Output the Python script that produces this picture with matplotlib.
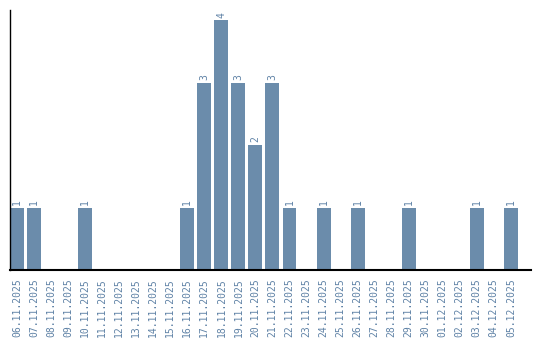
import matplotlib
matplotlib.use("Agg")
import matplotlib.pyplot as plt
import numpy as np

dates = ["06.11.2025", "07.11.2025", "08.11.2025", "09.11.2025", "10.11.2025",
         "11.11.2025", "12.11.2025", "13.11.2025", "14.11.2025", "15.11.2025",
         "16.11.2025", "17.11.2025", "18.11.2025", "19.11.2025", "20.11.2025",
         "21.11.2025", "22.11.2025", "23.11.2025", "24.11.2025", "25.11.2025",
         "26.11.2025", "27.11.2025", "28.11.2025", "29.11.2025", "30.11.2025",
         "01.12.2025", "02.12.2025", "03.12.2025", "04.12.2025", "05.12.2025"]
counts = [1, 1, 0, 0, 1, 0, 0, 0, 0, 0,
          1, 3, 4, 3, 2, 3, 1, 0, 1, 0,
          1, 0, 0, 1, 0, 0, 0, 1, 0, 1]

bar_color = '#6b8cab'
text_color = '#5f82a6'

fig = plt.figure(figsize=(5.4, 3.4), dpi=100, facecolor='white')
ax = fig.add_axes([10 / 540, 1 - 270 / 340, 521 / 540, 260 / 340])

x = np.arange(len(dates))
bars = ax.bar(x, counts, width=0.82, color=bar_color)

# value labels only on non-empty days
for xi, c in zip(x, counts):
    if c > 0:
        ax.text(xi, c + 0.04, str(c), rotation=90, ha='center', va='bottom',
                fontsize=7, family='DejaVu Sans Mono', color=text_color)

ax.set_xlim(-0.41, 30.18)
ax.set_ylim(0, 4.16)
ax.set_xticks(x)
ax.set_xticklabels(dates, rotation=90, fontsize=7, family='DejaVu Sans Mono',
                   color=text_color)
ax.tick_params(axis='x', length=0, pad=6)
ax.set_yticks([])

for spine in ['top', 'right']:
    ax.spines[spine].set_visible(False)
ax.spines['left'].set_linewidth(1)
ax.spines['bottom'].set_linewidth(1.5)

fig.savefig("out.png", dpi=100, facecolor='white')
